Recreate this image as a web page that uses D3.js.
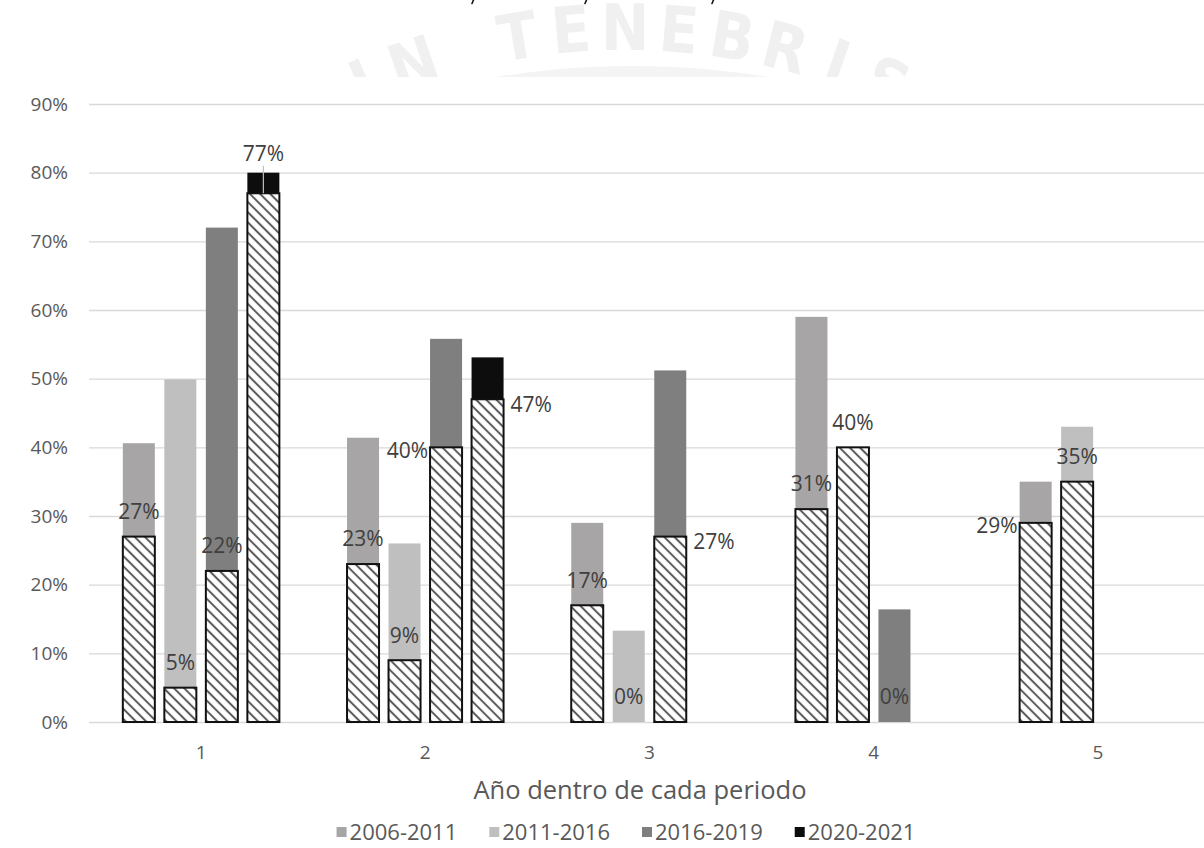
<!DOCTYPE html>
<html>
<head>
<meta charset="utf-8">
<script src="https://cdn.jsdelivr.net/npm/d3@7"></script>
<style>
  html, body { margin: 0; padding: 0; background: #ffffff; }
  svg { display: block; }
</style>
</head>
<body>
<svg id="chart" width="1204" height="848"></svg>
<script>
// Year within each government period (x axis)
const categories = ["1", "2", "3", "4", "5"];
// Government periods (one bar per period inside each year group)
const seriesNames = ["2006-2011", "2011-2016", "2016-2019", "2020-2021"];

// Solid bars: total share for each year of the period (%)
const total2006 = [40.6, 41.4, 29.0, 59.0, 35.0];
const total2011 = [49.9, 26.0, 13.3, 40.0, 43.0];
const total2016 = [72.0, 55.8, 51.2, 16.4, null];
const total2020 = [80.0, 53.1, null, null, null];

// Hatched bars: labelled share (%)
const part2006 = [27, 23, 17, 31, 29];
const part2011 = [5, 9, 0, 40, 35];
const part2016 = [22, 40, 27, 0, null];
const part2020 = [77, 47, null, null, null];

// Y axis ticks (%)
const yTicks = [0, 10, 20, 30, 40, 50, 60, 70, 80, 90];

const xTitle = "Año dentro de cada periodo";
const motto = "IN TENEBRIS";

// Where each hatched-bar label sits relative to its bar
const labelSide = [
  ["top", "top", "top", "top", "left"],
  ["top", "top", "top", "top", "top"],
  ["top", "left", "right", "top", null],
  ["leader", "right", null, null, null]
];

const totals = [total2006, total2011, total2016, total2020];
const parts = [part2006, part2011, part2016, part2020];
const colors = ["#a7a5a6", "#bfbfbf", "#7f7f7f", "#0d0d0d"];

const FONT = "'Open Sans', 'DejaVu Sans', sans-serif";
const W = 1204, H = 848;
const svg = d3.select("#chart");
const defs = svg.append("defs");

// ---- faint page watermark behind the chart image (top strip only) ----
defs.append("clipPath").attr("id", "topStrip")
  .append("rect").attr("x", 0).attr("y", 0).attr("width", W).attr("height", 77);

const wm = svg.append("g").attr("clip-path", "url(#topStrip)");
wm.append("circle").attr("cx", 632).attr("cy", 66 + 846).attr("r", 846).attr("fill", "#f4f4f4");

// motto letters placed one by one around an arc
const arcCx = 625, arcCy = 677, arcR = 650, letterStep = 54;
const mid = motto.indexOf("N", 4);
motto.split("").forEach((ch, k) => {
  if (ch === " ") return;
  const a = ((k - mid) * letterStep) / arcR;       // radians from the top of the arc
  const px = arcCx + arcR * Math.sin(a);
  const py = arcCy - arcR * Math.cos(a);
  wm.append("text")
    .attr("transform", `translate(${px},${py}) rotate(${a * 180 / Math.PI})`)
    .attr("text-anchor", "middle")
    .attr("dy", "0.36em")
    .attr("font-family", "'DejaVu Sans Condensed', 'DejaVu Sans', sans-serif")
    .attr("font-weight", "bold")
    .attr("font-size", 64)
    .attr("fill", "#f0f0f0")
    .text(ch);
});

// small cut-off strokes of the text line above
const marks = svg.append("g").attr("stroke", "#111").attr("stroke-width", 1.6).attr("stroke-linecap", "round");
[472, 585, 712].forEach(mx => {
  marks.append("line").attr("x1", mx + 1.5).attr("y1", 0).attr("x2", mx).attr("y2", 3.5);
});

// ---- chart area ----
const x0 = d3.scaleBand().domain(categories).range([89, 1210]).paddingInner(0).paddingOuter(0);
const x1 = d3.scaleBand().domain(seriesNames).range([0, x0.bandwidth()])
  .paddingInner(0.229).paddingOuter(0.815);
const y = d3.scaleLinear().domain([0, 90]).range([722, 104]);

// hatch pattern for the labelled part
const P = 7.2;
const pat = defs.append("pattern").attr("id", "hatch")
  .attr("patternUnits", "userSpaceOnUse")
  .attr("width", P).attr("height", P)
  .attr("patternTransform", "rotate(45)");
pat.append("rect").attr("width", P).attr("height", P).attr("fill", "#ffffff");
pat.append("line").attr("x1", 0).attr("y1", P / 2).attr("x2", P).attr("y2", P / 2)
  .attr("stroke", "#5a5a5a").attr("stroke-width", 2);

// gridlines + y labels
const yAxis = d3.axisLeft(y).tickValues(yTicks)
  .tickSize(-(W - 89)).tickPadding(21)
  .tickFormat(d => d + "%");
const gy = svg.append("g").attr("transform", "translate(89,0)").call(yAxis);
gy.select(".domain").remove();
gy.selectAll(".tick line").attr("stroke", "#d9d9d9").attr("stroke-width", 1.4);
gy.selectAll(".tick text").attr("font-family", FONT).attr("font-size", 19).attr("fill", "#595959");

// x axis labels
const xAxis = d3.axisBottom(x0).tickSize(0).tickPadding(24);
const gx = svg.append("g").attr("transform", "translate(0,722)").call(xAxis);
gx.select(".domain").remove();
gx.selectAll(".tick text").attr("font-family", FONT).attr("font-size", 19).attr("fill", "#595959");

// bars
const barsG = svg.append("g");
seriesNames.forEach((s, i) => {
  categories.forEach((c, j) => {
    const t = totals[i][j];
    if (t == null) return;
    const bx = x0(c) + x1(s);
    barsG.append("rect")
      .attr("x", bx).attr("width", x1.bandwidth())
      .attr("y", y(t)).attr("height", y(0) - y(t))
      .attr("fill", colors[i]);
  });
});

seriesNames.forEach((s, i) => {
  categories.forEach((c, j) => {
    const p = parts[i][j];
    if (p == null || p === 0) return;
    const bx = x0(c) + x1(s);
    barsG.append("rect")
      .attr("x", bx).attr("width", x1.bandwidth())
      .attr("y", y(p)).attr("height", y(0) - y(p))
      .attr("fill", "url(#hatch)")
      .attr("stroke", "#111111").attr("stroke-width", 2);
  });
});

// value labels of the hatched part
const labG = svg.append("g").attr("font-family", FONT).attr("font-size", 21).attr("fill", "#404040");
seriesNames.forEach((s, i) => {
  categories.forEach((c, j) => {
    const p = parts[i][j];
    if (p == null) return;
    const side = labelSide[i][j];
    const bx = x0(c) + x1(s);
    const bw = x1.bandwidth();
    const txt = p + "%";
    let lx, ly, anchor;
    if (side === "top") {
      lx = bx + bw / 2; ly = y(p) - 25; anchor = "middle";
    } else if (side === "left") {
      lx = bx - 2; ly = y(p) + 3; anchor = "end";
    } else if (side === "right") {
      lx = bx + bw + 7; ly = y(p) + 5; anchor = "start";
    } else {
      lx = bx + bw / 2; ly = y(totals[i][j]) - 19; anchor = "middle";
      svg.append("line")
        .attr("x1", lx).attr("x2", lx)
        .attr("y1", ly + 12).attr("y2", y(p))
        .attr("stroke", "#bdbdbd").attr("stroke-width", 1.2);
    }
    labG.append("text")
      .attr("x", lx).attr("y", ly).attr("dy", "0.35em")
      .attr("text-anchor", anchor)
      .text(txt);
  });
});

// x axis title
svg.append("text")
  .attr("x", 640).attr("y", 790).attr("dy", "0.35em")
  .attr("text-anchor", "middle")
  .attr("font-family", FONT).attr("font-size", 25.5).attr("fill", "#595959")
  .text(xTitle);

// legend
const leg = svg.append("g").attr("font-family", FONT).attr("font-size", 22).attr("fill", "#595959");
const items = [];
seriesNames.forEach((s, i) => {
  const g = leg.append("g");
  g.append("rect").attr("x", 0).attr("y", -5).attr("width", 10).attr("height", 10).attr("fill", colors[i]);
  const t = g.append("text").attr("x", 13).attr("y", 0).attr("dy", "0.35em").text(s);
  const w = 13 + t.node().getComputedTextLength();
  items.push({ g, w });
});
const gap = 32;
const totalW = d3.sum(items, d => d.w) + gap * (items.length - 1);
let lx0 = 626 - totalW / 2;
items.forEach(d => {
  d.g.attr("transform", `translate(${lx0},832)`);
  lx0 += d.w + gap;
});
</script>
</body>
</html>
